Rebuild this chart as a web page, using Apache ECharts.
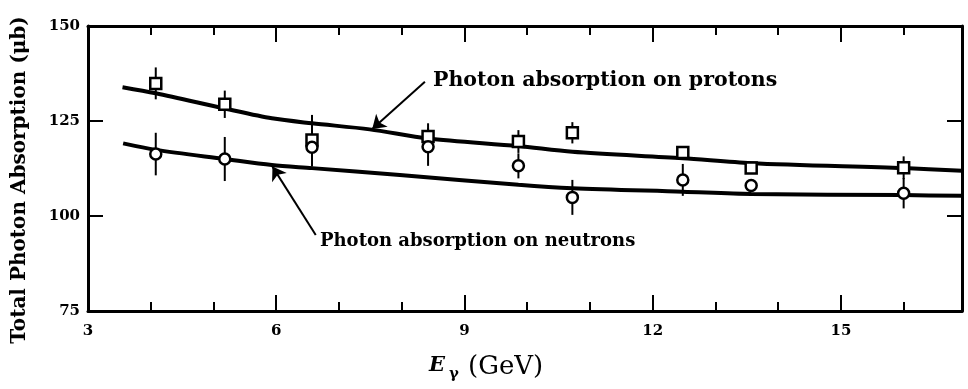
<!DOCTYPE html>
<html>
<head>
<meta charset="utf-8">
<script src="https://cdn.jsdelivr.net/npm/echarts@6/dist/echarts.min.js"></script>
<style>html,body{margin:0;padding:0;background:#fff}#c{width:968px;height:389px}</style>
</head>
<body>
<div id="c"></div>
<script>
// ---- data ----
const energies = [4.08, 5.18, 6.57, 8.42, 9.86, 10.72, 12.48, 13.57, 16.0];
const protonValues = [134.9, 129.4, 120.0, 120.9, 119.6, 121.9, 116.7, 112.6, 112.7];
const protonErrors = [4.2, 3.6, 6.6, 3.5, 3.0, 2.8, 1.2, 1.2, 3.0];
const neutronValues = [116.3, 115.0, 118.1, 118.2, 113.2, 104.9, 109.5, 108.0, 106.0];
const neutronErrors = [5.6, 5.8, 5.1, 5.0, 3.3, 4.6, 4.2, 1.0, 4.0];
const protonCurveX = [3.55, 4.08, 5.18, 5.93, 6.57, 7.49, 8.42, 9.86, 10.72, 12.48, 13.57, 16.0, 16.93];
const protonCurveY = [133.9, 132.3, 128.3, 125.7, 124.4, 122.8, 120.4, 118.4, 116.9, 115.2, 113.9, 112.6, 111.9];
const neutronCurveX = [3.56, 4.08, 5.18, 5.93, 6.57, 7.97, 9.86, 10.72, 12.48, 13.57, 16.0, 16.93];
const neutronCurveY = [119.1, 117.4, 115.0, 113.4, 112.6, 110.8, 108.2, 107.3, 106.4, 105.8, 105.5, 105.3];
const xMajorTicks = [3, 6, 9, 12, 15];
const xMinorTicks = [4, 5, 7, 8, 10, 11, 13, 14, 16];
const yTicks = [75, 100, 125, 150];
const protonLabel = 'Photon absorption on protons';
const neutronLabel = 'Photon absorption on neutrons';
const yTitle = 'Total Photon Absorption (\u03bcb)';

const FONT = 'DejaVu Serif';
const X_MIN = 3, X_MAX = 16.93, Y_MIN = 75, Y_MAX = 150;

const pairs = (xs, ys) => xs.map((x, i) => [x, ys[i]]);
const errData = (vals, errs) => energies.map((x, i) => [x, vals[i] - errs[i], vals[i] + errs[i]]);

function errRender(params, api) {
  const p1 = api.coord([api.value(0), api.value(1)]);
  const p2 = api.coord([api.value(0), api.value(2)]);
  return { type: 'line', shape: { x1: p1[0], y1: p1[1], x2: p2[0], y2: p2[1] },
           style: { stroke: '#000', lineWidth: 2 } };
}

function xAxisDef(pos, values, len, showLine, showLabels) {
  return {
    type: 'value', position: pos, min: X_MIN, max: X_MAX, interval: 3,
    axisLine: { show: showLine, onZero: false, lineStyle: { color: '#000', width: 3 } },
    axisTick: { show: true, inside: true, length: len, customValues: values, lineStyle: { color: '#000', width: 2 } },
    axisLabel: { show: showLabels, customValues: xMajorTicks, margin: 13, color: '#000',
                 fontFamily: FONT, fontWeight: 'bold', fontSize: 15 },
    splitLine: { show: false }
  };
}

const chart = echarts.init(document.getElementById('c'), null, { renderer: 'canvas' });
chart.setOption({
  animation: false,
  backgroundColor: '#fff',
  grid: { left: 88, right: 6, top: 26, bottom: 78, containLabel: false, outerBoundsMode: 'none' },
  xAxis: [
    xAxisDef('bottom', xMajorTicks, 16, true, true),
    xAxisDef('bottom', xMinorTicks, 9, false, false),
    xAxisDef('top', xMajorTicks, 16, true, false),
    xAxisDef('top', xMinorTicks, 9, false, false)
  ],
  yAxis: [
    {
      type: 'value', position: 'left', min: Y_MIN, max: Y_MAX, interval: 25,
      axisLine: { show: true, onZero: false, lineStyle: { color: '#000', width: 3 } },
      axisTick: { show: true, inside: true, length: 15, lineStyle: { color: '#000', width: 2 } },
      axisLabel: { margin: 8, color: '#000', fontFamily: FONT, fontWeight: 'bold', fontSize: 15 },
      splitLine: { show: false }
    },
    {
      type: 'value', position: 'right', min: Y_MIN, max: Y_MAX, interval: 25,
      axisLine: { show: true, onZero: false, lineStyle: { color: '#000', width: 3 } },
      axisTick: { show: true, inside: true, length: 15, lineStyle: { color: '#000', width: 2 } },
      axisLabel: { show: false },
      splitLine: { show: false }
    }
  ],
  series: [
    {
      type: 'line', name: 'proton fit', data: pairs(protonCurveX, protonCurveY),
      smooth: 0.3, showSymbol: false, symbol: 'none', z: 2,
      lineStyle: { color: '#000', width: 4 },
      markLine: {
        silent: true, symbol: ['none', 'arrow'], symbolSize: 13,
        lineStyle: { color: '#000', width: 2, type: 'solid' }, label: { show: false },
        data: [[{ coord: [8.37, 135.3] }, { coord: [7.53, 122.9] }]]
      }
    },
    {
      type: 'line', name: 'neutron fit', data: pairs(neutronCurveX, neutronCurveY),
      smooth: 0.3, showSymbol: false, symbol: 'none', z: 2,
      lineStyle: { color: '#000', width: 4 },
      markLine: {
        silent: true, symbol: ['none', 'arrow'], symbolSize: 13,
        lineStyle: { color: '#000', width: 2, type: 'solid' }, label: { show: false },
        data: [[{ coord: [6.63, 95.0] }, { coord: [5.94, 113.0] }]]
      }
    },
    { type: 'custom', name: 'proton err', renderItem: errRender, data: errData(protonValues, protonErrors), z: 3 },
    { type: 'custom', name: 'neutron err', renderItem: errRender, data: errData(neutronValues, neutronErrors), z: 3 },
    {
      type: 'scatter', name: 'protons', data: pairs(energies, protonValues), symbol: 'rect', symbolSize: 11, z: 5,
      itemStyle: { color: '#fff', opacity: 1, borderColor: '#000', borderWidth: 2.5 }
    },
    {
      type: 'scatter', name: 'neutrons', data: pairs(energies, neutronValues), symbol: 'circle', symbolSize: 11, z: 5,
      itemStyle: { color: '#fff', opacity: 1, borderColor: '#000', borderWidth: 2.5 }
    }
  ],
  graphic: [
    { type: 'text', x: 20, y: 180, rotation: Math.PI / 2,
      style: { text: yTitle, align: 'center', verticalAlign: 'middle', fontFamily: FONT, fontWeight: 'bold', fontSize: 20, fill: '#000' } },
    { type: 'text', left: 433, top: 70, style: { text: protonLabel, fontFamily: FONT, fontWeight: 'bold', fontSize: 20.5, fill: '#000' } },
    { type: 'text', left: 320, top: 232, style: { text: neutronLabel, fontFamily: FONT, fontWeight: 'bold', fontSize: 18, fill: '#000' } },
    { type: 'text', left: 429, top: 355, style: { text: 'E', fontFamily: FONT, fontStyle: 'italic', fontWeight: 'bold', fontSize: 21, fill: '#000' } },
    { type: 'text', left: 449, top: 367, style: { text: '\u03b3', fontFamily: FONT, fontWeight: 'bold', fontSize: 15, fill: '#000' } },
    { type: 'text', left: 468, top: 354, style: { text: '(GeV)', fontFamily: FONT, fontSize: 26, fill: '#000' } }
  ]
});
</script>
</body>
</html>
